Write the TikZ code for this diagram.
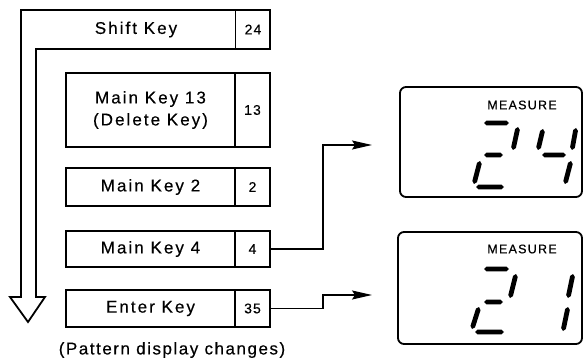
\documentclass[tikz,border=0pt]{standalone}
\usepackage{fontspec}
\setmainfont{Liberation Sans}
\newfontfamily\keyfont{Liberation Sans}[LetterSpace=12,FakeBold=0.4]
\newfontfamily\numfont{Liberation Sans}[LetterSpace=8,FakeBold=0.3]
\newfontfamily\patfont{Liberation Sans}[LetterSpace=9,FakeBold=0.4]
\newfontfamily\dispfont{Liberation Sans}[LetterSpace=10,FakeBold=0.5]
\usetikzlibrary{calc,arrows.meta}
\newcommand\segm[2]{%
  \fill (#1) -- ($(#1)!2.5pt!(#2)!2.4pt!90:(#2)$) -- ($(#2)!2.5pt!(#1)!2.4pt!-90:(#1)$) -- (#2)
   -- ($(#2)!2.5pt!(#1)!2.4pt!90:(#1)$) -- ($(#1)!2.5pt!(#2)!2.4pt!-90:(#2)$) -- cycle;}
\tikzset{
  keybox/.style={draw, line width=1.8pt, inner sep=0pt, outer sep=0pt, minimum width=169pt, font=\keyfont\fontsize{17}{22}\selectfont, align=center},
  numbox/.style={draw, line width=1.8pt, inner sep=0pt, outer sep=0pt, minimum width=35pt, font=\numfont\fontsize{14}{16}\selectfont},
  lbl/.style={inner sep=0pt, font=\keyfont\fontsize{17}{22}\selectfont},
  disp/.style={draw, line width=1.8pt, rounded corners=6pt, inner sep=0pt},
  conn/.style={line width=1.5pt, -{Stealth[length=20pt,width=9pt,inset=3pt]}},
}
\begin{document}
\begin{tikzpicture}[x=1pt,y=-1pt]
\useasboundingbox (0,0) rectangle (583,363);
% shift key box and sequence arrow
\draw[line width=1.8pt, line join=miter] (21,297) -- (21,10) -- (270,10) -- (270,49) -- (36,49) -- (36,297) -- (45,297) -- (28,322) -- (10,297) -- cycle;
\node[lbl] (ks) at (136,29.5) {Shift Key};
\node[numbox, minimum height=39pt] (n24) at (253,29.5) {24};
% key boxes
\node[keybox, minimum height=74pt] (k13) at (150.5,110) {Main Key 13\\(Delete Key)};
\node[numbox, minimum height=74pt, anchor=west] (n13) at (k13.east) {13};
\node[keybox, minimum height=38pt] (k2) at (150.5,187) {Main Key 2};
\node[numbox, minimum height=38pt, anchor=west] (n2) at (k2.east) {2};
\node[keybox, minimum height=36pt] (k4) at (150.5,249) {Main Key 4};
\node[numbox, minimum height=36pt, anchor=west] (n4) at (k4.east) {4};
\node[keybox, minimum height=37pt] (ke) at (150.5,308.5) {Enter Key};
\node[numbox, minimum height=37pt, anchor=west] (n35) at (ke.east) {35};
\node[inner sep=0pt, font=\patfont\fontsize{17}{20}\selectfont] (pat) at (172,350) {(Pattern display changes)};
% displays
\node[disp, minimum width=182pt, minimum height=110pt] (d1) at (491,142) {};
\node[disp, minimum width=184pt, minimum height=112pt] (d2) at (490,288) {};
\node[inner sep=0pt, font=\dispfont\fontsize{12.5}{14}\selectfont] (m1) at (522,105) {MEASURE};
\node[inner sep=0pt, font=\dispfont\fontsize{12.5}{14}\selectfont] (m2) at (522,249) {MEASURE};
% connectors
\coordinate (b1) at (323,145);
\coordinate (c1) at (372,145);
\coordinate (b2) at (323,295);
\coordinate (c2) at (372,295);
\draw[conn] (n4.east) -| (b1) -- (c1);
\draw[conn] (n35.east) -| (b2) -- (c2);
% digits "24"
\segm{484,123}{509,123}
\segm{518,127}{513,150}
\segm{484,155}{503,155}
\segm{480,161}{474,184}
\segm{476,187}{504,187}
\segm{543,129}{538,150}
\segm{576,128}{572,150}
\segm{542,155}{566,155}
\segm{571,161}{565,184}
% digits "21"
\segm{484,269}{509,269}
\segm{516,274}{510,298}
\segm{484,302}{503,302}
\segm{479,307}{472,329}
\segm{475,332}{504,332}
\segm{573,274}{568,298}
\segm{568,307}{563,331}
\end{tikzpicture}
\end{document}
